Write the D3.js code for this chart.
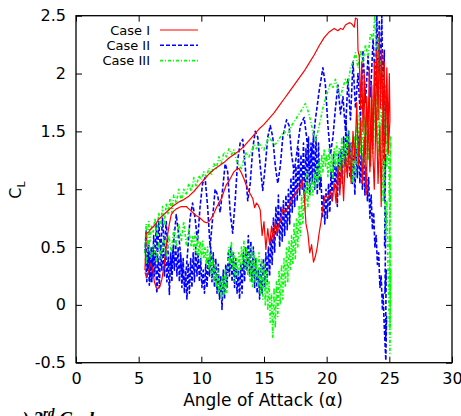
<!DOCTYPE html>
<html><head><meta charset="utf-8">
<script src="https://cdn.jsdelivr.net/npm/d3@7"></script>
<style>body{margin:0;background:#fff}svg{display:block}</style>
</head><body>
<svg id="c" width="461" height="416"></svg>
<script>
// ---- data (angle of attack, CL) in traversal order ----
const caseI = [
[5.5,0.30],[5.55,0.45],[5.6,0.62],[5.8,0.63],[6.0,0.66],[6.3,0.69],[6.6,0.74],[7.0,0.78],[7.4,0.82],[7.8,0.86],
[8.2,0.89],[8.6,0.91],[9.0,0.94],[9.4,0.98],[9.8,1.03],[10.2,1.08],[10.6,1.13],[11.0,1.17],[11.4,1.20],[11.8,1.23],
[12.2,1.27],[12.6,1.30],[13.0,1.33],[13.4,1.37],[13.8,1.42],[14.2,1.47],[14.6,1.52],[15.0,1.56],[15.4,1.61],[15.8,1.66],
[16.2,1.72],[16.6,1.78],[17.0,1.84],[17.4,1.90],[17.8,1.96],[18.2,2.02],[18.6,2.09],[19.0,2.16],[19.4,2.24],[19.8,2.31],
[20.2,2.36],[20.6,2.39],[20.9,2.37],[21.1,2.39],[21.3,2.38],[21.5,2.42],[21.8,2.44],[22.0,2.43],[22.2,2.40],[22.3,2.48],
[22.45,2.47],[22.5,2.2],[22.6,2.15],[22.7,1.7],[22.8,2.1],[22.9,1.5],[23.0,2.0],[23.1,1.3],[23.2,1.8],[23.3,1.45],
[23.4,2.05],[23.5,1.2],[23.6,1.9],[23.7,1.35],[23.8,2.1],[23.9,1.5],[24.0,2.2],[24.1,1.6],[24.2,2.35],[24.3,1.7],
[24.4,2.2],[24.5,1.5],[24.6,2.1],[24.7,1.4],[24.8,2.05],[24.9,1.45],[25.0,2.0],[25.05,1.6],
[24.9,1.3],[24.8,1.9],[24.6,1.25],[24.5,1.8],[24.35,0.85],[24.25,1.55],[24.1,1.05],[23.95,1.7],[23.8,1.0],[23.6,1.55],
[23.45,1.15],[23.3,1.6],[23.15,0.95],[23.0,1.45],[22.85,1.05],[22.7,1.6],[22.55,1.2],[22.4,1.75],[22.25,1.25],[22.1,1.5],
[21.95,1.05],[21.8,1.4],[21.65,1.1],[21.5,1.3],[21.35,0.9],[21.2,1.25],[21.05,0.95],[20.9,1.2],[20.75,0.88],[20.6,1.05],
[20.45,0.9],[20.3,0.98],[20.1,0.92],[19.9,0.95],[19.7,0.85],[19.55,0.72],[19.4,0.62],[19.25,0.5],[19.1,0.42],[18.95,0.37],
[18.8,0.52],[18.65,0.45],[18.5,0.62],[18.35,0.7],[18.2,0.95],[18.05,1.08],[17.9,1.02],[17.7,1.0],[17.5,0.96],[17.3,0.93],
[17.1,0.88],[16.9,0.84],[16.7,0.8],[16.5,0.83],[16.35,0.74],[16.2,0.7],[16.05,0.62],[15.9,0.72],[15.75,0.55],[15.6,0.68],
[15.45,0.52],[15.3,0.66],[15.15,0.48],[15.0,0.72],[14.85,0.6],[14.7,0.82],[14.55,0.86],[14.4,0.88],[14.25,0.84],[14.1,0.92],
[13.95,0.95],[13.8,0.98],[13.6,1.03],[13.4,1.09],[13.2,1.14],[13.0,1.18],[12.8,1.17],[12.6,1.15],[12.4,1.11],[12.2,1.07],
[12.0,1.04],[11.8,0.98],[11.6,0.92],[11.4,0.88],[11.2,0.84],[11.0,0.79],[10.8,0.75],[10.6,0.72],[10.4,0.71],[10.2,0.72],
[10.0,0.74],[9.8,0.76],[9.6,0.77],[9.4,0.79],[9.2,0.81],[9.0,0.83],[8.8,0.85],[8.6,0.85],[8.4,0.85],[8.2,0.84],
[8.0,0.83],[7.8,0.81],[7.6,0.78],[7.45,0.7],[7.3,0.6],[7.15,0.45],[7.0,0.32],[6.85,0.22],[6.7,0.16],[6.55,0.14],
[6.4,0.15],[6.25,0.2],[6.1,0.32],[5.95,0.36],[5.8,0.3],[5.65,0.24],[5.5,0.28]
];
const caseII = [
[5.5,0.45],[5.6,0.65],[5.7,0.3],[5.8,0.55],[5.9,0.2],[6.0,0.5],[6.1,0.25],[6.2,0.6],[6.3,0.35],[6.4,0.7],
[6.5,0.4],[6.6,0.72],[6.75,0.45],[6.9,0.75],[7.05,0.5],[7.2,0.72],[7.4,0.35],[7.6,0.3],[7.8,0.55],[8.0,0.78],
[8.2,0.6],[8.5,0.25],[8.7,0.17],[8.9,0.45],[9.1,0.75],[9.3,0.88],[9.5,0.75],[9.7,0.55],[9.9,0.85],[10.1,1.05],
[10.3,1.1],[10.5,0.85],[10.7,0.5],[10.9,0.75],[11.1,1.0],[11.3,0.95],[11.5,0.8],[11.7,1.0],[11.9,1.22],[12.1,1.15],
[12.3,0.8],[12.5,0.62],[12.7,0.9],[12.9,1.25],[13.1,1.4],[13.3,1.43],[13.5,1.2],[13.7,0.9],[13.9,1.05],[14.1,1.35],
[14.3,1.5],[14.5,1.45],[14.7,1.2],[14.9,0.99],[15.1,1.2],[15.3,1.45],[15.5,1.55],[15.7,1.45],[15.9,1.2],[16.1,1.05],
[16.3,1.2],[16.5,1.45],[16.8,1.6],[17.0,1.55],[17.2,1.3],[17.4,1.15],[17.6,1.3],[17.9,1.55],[18.2,1.62],[18.4,1.45],
[18.6,1.2],[18.8,1.3],[19.1,1.6],[19.4,1.85],[19.7,2.05],[19.9,1.9],[20.1,1.55],[20.3,1.3],[20.5,1.45],[20.7,1.7],
[20.9,1.9],[21.1,1.65],[21.3,1.8],[21.5,1.5],[21.7,1.95],[21.9,1.6],[22.1,2.1],[22.3,1.7],[22.5,2.0],[22.7,1.6],
[22.9,2.2],[23.1,1.75],[23.3,2.15],[23.5,1.8],[23.7,2.3],[23.9,1.9],[24.0,2.5],[24.1,2.0],[24.2,2.45],[24.3,1.9],
[24.4,2.5],[24.5,1.7],[24.6,2.2],[24.55,1.2],[24.65,1.8],[24.6,0.9],[24.7,1.3],[24.62,0.5],[24.72,0.8],[24.65,0.1],
[24.75,0.3],[24.7,-0.3],[24.78,-0.1],[24.72,-0.48],
[24.6,-0.2],[24.5,0.1],[24.45,-0.05],[24.35,0.25],[24.25,0.15],[24.15,0.45],[24.05,0.35],[23.95,0.6],[23.85,0.5],[23.75,0.8],
[23.65,0.65],[23.55,0.95],[23.45,0.75],[23.35,1.1],[23.25,0.9],[23.15,1.2],[23.05,0.95],[22.95,1.35],[22.85,1.0],[22.75,1.3],
[22.65,1.05],[22.55,1.45],[22.45,1.1],[22.35,1.35],[22.25,0.95],[22.15,1.3],[22.05,1.05],[21.95,1.4],[21.85,1.1],[21.75,1.5],
[21.65,1.15],[21.55,1.6],[21.45,1.2],[21.35,1.45],[21.25,1.05],[21.15,1.35],[21.05,1.0],[20.95,1.3],[20.85,0.85],[20.75,1.2],
[20.65,1.0],[20.55,1.3],[20.45,0.9],[20.35,1.15],[20.25,0.8],[20.15,1.05],[20.05,0.75],[19.95,1.0],[19.85,0.7],[19.75,0.95],
[19.65,0.75],[19.55,1.1],[19.45,1.0],[19.35,1.4],[19.25,0.95],[19.15,1.45],[19.05,1.0],[18.95,1.5],[18.85,1.05],[18.75,1.4],
[18.65,0.95],[18.55,1.45],[18.45,1.0],[18.35,1.35],[18.25,0.9],[18.15,1.4],[18.05,1.0],[17.95,1.3],[17.85,0.95],[17.75,1.35],
[17.65,0.9],[17.55,1.2],[17.45,0.85],[17.35,1.15],[17.25,0.8],[17.15,1.1],[17.05,0.7],[16.95,1.0],[16.85,0.65],[16.75,0.95],
[16.65,0.6],[16.55,0.9],[16.45,0.55],[16.35,0.85],[16.25,0.5],[16.15,0.95],[16.05,0.6],[15.95,0.85],[15.85,0.45],[15.75,0.75],
[15.65,0.35],[15.55,0.6],[15.45,0.25],[15.35,0.5],[15.25,0.2],[15.15,0.45],[15.05,0.15],[14.95,0.4],[14.85,0.1],[14.75,0.35],
[14.65,0.05],[14.55,0.3],[14.45,0.1],[14.35,0.4],[14.25,0.15],[14.15,0.5],[14.05,0.2],[13.95,0.55],[13.85,0.25],[13.75,0.6],
[13.65,0.3],[13.55,0.5],[13.45,0.2],[13.35,0.45],[13.25,0.1],[13.15,0.35],[13.05,0.05],[12.95,0.3],[12.85,0.1],[12.75,0.4],
[12.65,0.15],[12.55,0.45],[12.45,0.2],[12.35,0.5],[12.25,0.25],[12.15,0.45],[12.05,0.15],[11.95,0.35],[11.85,0.05],[11.75,0.3],
[11.65,-0.04],[11.55,0.25],[11.45,0.05],[11.35,0.35],[11.25,0.1],[11.15,0.4],[11.05,0.15],[10.95,0.45],[10.85,0.2],[10.75,0.5],
[10.65,0.25],[10.55,0.4],[10.45,0.15],[10.35,0.35],[10.25,0.1],[10.15,0.3],[10.05,0.15],[9.95,0.4],[9.85,0.2],[9.75,0.45],
[9.65,0.25],[9.55,0.5],[9.45,0.2],[9.35,0.45],[9.25,0.15],[9.15,0.4],[9.05,0.1],[8.95,0.35],[8.85,0.05],[8.75,0.3],
[8.65,0.1],[8.55,0.4],[8.45,0.15],[8.35,0.45],[8.25,0.2],[8.15,0.5],[8.05,0.25],[7.95,0.55],[7.85,0.3],[7.75,0.5],
[7.65,0.2],[7.55,0.45],[7.45,0.09],[7.35,0.4],[7.25,0.2],[7.15,0.5],[7.05,0.25],[6.95,0.55],[6.85,0.3],[6.75,0.5],
[6.65,0.15],[6.55,0.4],[6.45,0.1],[6.35,0.45],[6.25,0.25],[6.15,0.5],[6.05,0.2],[5.95,0.45],[5.85,0.17],[5.75,0.5],
[5.65,0.2],[5.55,0.4]
];
const caseIII = [
[5.5,0.45],[5.6,0.7],[5.7,0.5],[5.8,0.72],[5.9,0.55],[6.0,0.68],[6.15,0.62],[6.3,0.75],[6.45,0.6],[6.6,0.8],
[6.75,0.68],[6.9,0.85],[7.05,0.7],[7.2,0.88],[7.35,0.78],[7.5,0.92],[7.65,0.8],[7.8,0.95],[8.0,0.88],[8.2,1.0],
[8.4,0.9],[8.6,1.0],[8.8,0.95],[9.0,1.05],[9.2,0.98],[9.4,1.1],[9.6,1.02],[9.8,1.12],[10.0,1.08],[10.2,1.15],
[10.4,1.1],[10.6,1.18],[10.8,1.12],[11.0,1.22],[11.2,1.18],[11.4,1.28],[11.6,1.22],[11.8,1.32],[12.0,1.28],[12.2,1.35],
[12.4,1.3],[12.6,1.34],[12.8,1.25],[13.0,1.2],[13.2,1.18],[13.4,1.26],[13.6,1.32],[13.8,1.28],[14.0,1.33],[14.2,1.38],
[14.4,1.35],[14.6,1.4],[14.8,1.36],[15.0,1.34],[15.2,1.4],[15.4,1.45],[15.6,1.42],[15.8,1.38],[16.0,1.4],[16.3,1.45],
[16.6,1.5],[16.9,1.47],[17.2,1.55],[17.5,1.6],[17.8,1.65],[18.1,1.7],[18.3,1.74],[18.5,1.68],[18.7,1.6],[18.9,1.5],
[19.1,1.42],[19.3,1.5],[19.5,1.6],[19.7,1.7],[19.9,1.78],[20.1,1.85],[20.3,1.92],[20.5,1.88],[20.7,1.95],[20.9,1.85],
[21.1,1.8],[21.3,1.88],[21.5,1.95],[21.7,1.9],[21.9,2.05],[22.1,2.1],[22.3,2.18],[22.5,2.05],[22.7,2.2],[22.9,2.1],
[23.1,2.25],[23.3,2.15],[23.5,2.35],[23.7,2.3],[23.85,2.5],[24.0,1.9],[24.1,2.3],[24.2,1.6],[24.3,2.1],[24.4,1.4],
[24.5,2.0],[24.6,1.3],[24.7,1.9],[24.8,1.2],[24.9,1.75],[25.0,0.9],[25.1,1.45],[25.0,0.5],[25.1,1.0],[25.0,0.1],
[25.1,0.6],[25.05,-0.2],[25.12,0.3],[25.05,-0.42],
[24.9,0.3],[24.8,0.9],[24.7,0.6],[24.6,1.3],[24.5,0.9],[24.4,1.6],[24.3,1.1],[24.2,1.8],[24.1,1.3],[24.0,2.0],
[23.9,1.4],[23.8,1.9],[23.7,1.3],[23.6,1.8],[23.5,1.2],[23.4,1.75],[23.3,1.25],[23.2,1.7],[23.1,1.2],[23.0,1.65],
[22.9,1.15],[22.8,1.6],[22.7,1.3],[22.6,1.65],[22.5,1.2],[22.4,1.55],[22.3,1.1],[22.2,1.45],[22.1,1.05],[22.0,1.4],
[21.9,1.1],[21.8,1.5],[21.7,1.2],[21.6,1.45],[21.5,1.15],[21.4,1.4],[21.3,1.2],[21.2,1.45],[21.1,1.15],[21.0,1.35],
[20.9,1.1],[20.8,1.4],[20.7,1.2],[20.6,1.35],[20.5,1.1],[20.4,1.3],[20.3,1.15],[20.2,1.35],[20.1,1.1],[20.0,1.3],
[19.9,1.2],[19.8,1.35],[19.7,1.15],[19.6,1.3],[19.5,1.1],[19.4,1.25],[19.3,1.05],[19.2,1.2],[19.1,1.0],[19.0,1.15],
[18.9,0.95],[18.8,1.1],[18.7,0.95],[18.6,1.05],[18.5,0.85],[18.4,1.15],[18.3,0.8],[18.2,1.0],[18.1,0.7],[18.0,0.95],
[17.9,0.6],[17.8,0.85],[17.7,0.5],[17.6,0.75],[17.5,0.4],[17.4,0.7],[17.3,0.35],[17.2,0.6],[17.1,0.3],[17.0,0.55],
[16.9,0.2],[16.8,0.5],[16.7,0.15],[16.6,0.4],[16.5,0.05],[16.4,0.35],[16.3,0.0],[16.2,0.3],[16.1,-0.1],[16.0,0.2],
[15.9,-0.2],[15.8,0.15],[15.7,-0.28],[15.6,0.1],[15.5,-0.15],[15.4,0.2],[15.3,-0.05],[15.2,0.3],[15.1,0.0],[15.0,0.35],
[14.9,0.05],[14.8,0.4],[14.7,0.1],[14.6,0.45],[14.5,0.15],[14.4,0.4],[14.3,0.2],[14.2,0.45],[14.1,0.15],[14.0,0.5],
[13.9,0.2],[13.8,0.45],[13.7,0.25],[13.6,0.5],[13.5,0.3],[13.4,0.55],[13.3,0.35],[13.2,0.5],[13.1,0.3],[13.0,0.45],
[12.9,0.25],[12.8,0.4],[12.7,0.2],[12.6,0.45],[12.5,0.3],[12.4,0.55],[12.3,0.35],[12.2,0.5],[12.1,0.3],[12.0,0.1],
[11.9,0.3],[11.8,0.08],[11.7,0.25],[11.6,0.05],[11.5,0.2],[11.4,0.1],[11.3,0.3],[11.2,0.15],[11.1,0.35],[11.0,0.2],
[10.9,0.4],[10.8,0.25],[10.7,0.45],[10.6,0.3],[10.5,0.5],[10.4,0.35],[10.3,0.5],[10.2,0.4],[10.1,0.55],[10.0,0.38],
[9.9,0.55],[9.8,0.42],[9.7,0.6],[9.6,0.45],[9.5,0.62],[9.4,0.48],[9.3,0.6],[9.2,0.5],[9.0,0.65],[8.8,0.52],
[8.6,0.72],[8.4,0.55],[8.2,0.7],[8.0,0.5],[7.8,0.65],[7.6,0.45],[7.4,0.6],[7.2,0.42],[7.0,0.58],[6.8,0.4],
[6.6,0.55],[6.4,0.38],[6.2,0.52],[6.0,0.4],[5.8,0.55],[5.6,0.35],[5.5,0.5]
];
const seriesNames = ["Case I", "Case II", "Case III"];
const seriesColors = ["#ff0000", "#0000ff", "#00ff00"];
const xTicks = [0, 5, 10, 15, 20, 25, 30];
const yTicks = [-0.5, 0, 0.5, 1, 1.5, 2, 2.5];
const yTickLabels = ["-0.5", "0", "0.5", "1", "1.5", "2", "2.5"];

// ---- drawing ----
const svg = d3.select("#c");
const L = 76, R = 452, T = 15.7, B = 362.7;
const x = d3.scaleLinear().domain([0, 30]).range([L, R]);
const y = d3.scaleLinear().domain([-0.5, 2.5]).range([B, T]);
const font = "DejaVu Sans, sans-serif";

svg.append("defs").append("clipPath").attr("id", "clip")
  .append("rect").attr("x", L).attr("y", T).attr("width", R - L).attr("height", B - T);

const line = d3.line().x(d => x(d[0])).y(d => y(d[1]));
const data = [caseI, caseII, caseIII];
const styles = [
  {w: 1.2, dash: null},
  {w: 1.6, dash: "4,2"},
  {w: 1.6, dash: "3,2,1,2"}
];
const g = svg.append("g").attr("clip-path", "url(#clip)");
[1, 2, 0].forEach(i => {
  g.append("path").datum(data[i]).attr("d", line)
    .attr("fill", "none").attr("stroke", seriesColors[i])
    .attr("stroke-width", styles[i].w)
    .attr("stroke-dasharray", styles[i].dash)
    .attr("stroke-linejoin", "round");
});

// axes with inward ticks, mirrored
const tl = 6;
const xb = d3.axisBottom(x).tickValues(xTicks).tickSizeInner(-tl).tickSizeOuter(0).tickPadding(10);
const xt = d3.axisTop(x).tickValues(xTicks).tickSizeInner(-tl).tickSizeOuter(0).tickFormat("");
const yl = d3.axisLeft(y).tickValues(yTicks).tickSizeInner(-tl).tickSizeOuter(0).tickPadding(10)
  .tickFormat((d, i) => yTickLabels[i]);
const yr = d3.axisRight(y).tickValues(yTicks).tickSizeInner(-tl).tickSizeOuter(0).tickFormat("");
function style(sel) {
  sel.select(".domain").remove();
  sel.selectAll("line").attr("stroke", "#000").attr("stroke-width", 1);
  sel.selectAll("text").attr("font-family", font).attr("font-size", 16).attr("fill", "#000");
}
svg.append("g").attr("transform", `translate(0,${B})`).call(xb).call(style);
svg.append("g").attr("transform", `translate(0,${T})`).call(xt).call(style);
svg.append("g").attr("transform", `translate(${L},0)`).call(yl).call(style);
svg.append("g").attr("transform", `translate(${R},0)`).call(yr).call(style);
svg.append("rect").attr("x", L).attr("y", T).attr("width", R - L).attr("height", B - T)
  .attr("fill", "none").attr("stroke", "#000").attr("stroke-width", 1.3);

// legend
seriesNames.forEach((n, i) => {
  const ly = 30 + i * 15.3;
  svg.append("text").attr("x", 150).attr("y", ly).attr("dy", "0.35em")
    .attr("text-anchor", "end").attr("font-family", font).attr("font-size", 13).text(n);
  svg.append("line").attr("x1", 160).attr("x2", 198).attr("y1", ly).attr("y2", ly)
    .attr("stroke", seriesColors[i]).attr("stroke-width", styles[i].w)
    .attr("stroke-dasharray", styles[i].dash);
});

// axis titles
svg.append("text").attr("x", 263).attr("y", 406).attr("text-anchor", "middle")
  .attr("font-family", font).attr("font-size", 17).text("Angle of Attack (α)");
const yt = svg.append("text").attr("transform", "translate(21,190) rotate(-90)")
  .attr("text-anchor", "middle").attr("font-family", font).attr("font-size", 16);
yt.append("tspan").text("C");
yt.append("tspan").attr("font-size", 11).attr("dy", 4).text("L");

// caption partially cut off at bottom (as in the reference)
const cap = svg.append("text").attr("x", 14).attr("y", 425)
  .attr("font-family", "Liberation Serif, serif").attr("font-style", "italic")
  .attr("font-weight", "bold").attr("font-size", 19);
cap.append("tspan").text("c) 3");
cap.append("tspan").attr("font-size", 13).attr("dy", -8).text("rd");
cap.append("tspan").attr("dy", 8).text(" Cycle");
</script>
</body></html>
